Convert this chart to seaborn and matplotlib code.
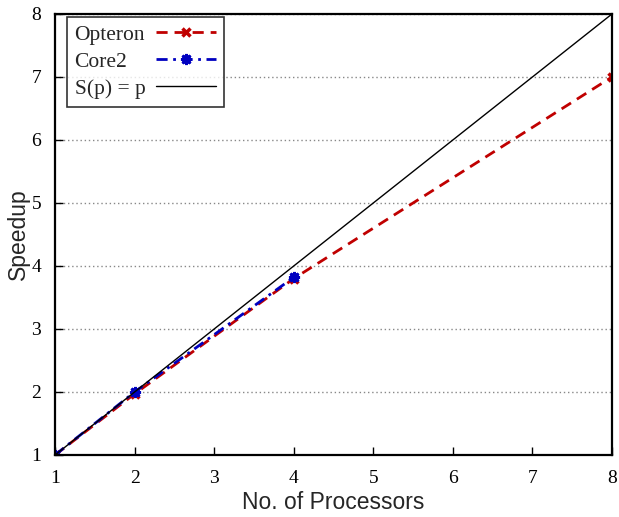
import numpy as np
import matplotlib.pyplot as plt
import seaborn as sns
import pandas as pd

# speedup measurements
procs_opteron = [1, 2, 4, 8]
speedup_opteron = [1.0, 1.97, 3.80, 7.0]
procs_core2 = [1, 2, 4]
speedup_core2 = [1.0, 2.0, 3.82]
ideal = [1, 8]

sns.set_style('white')
plt.rcParams['font.family'] = ['Liberation Serif', 'DejaVu Serif']

fig = plt.figure(figsize=(6.19, 5.17), dpi=100)
ax = fig.add_axes([0.089, 0.12, 0.8997, 0.853])

df_opt = pd.DataFrame({'p': procs_opteron, 's': speedup_opteron})
df_c2 = pd.DataFrame({'p': procs_core2, 's': speedup_core2})
df_id = pd.DataFrame({'p': ideal, 's': ideal})

red = '#c00000'
blue = '#0000c0'
sns.lineplot(data=df_opt, x='p', y='s', ax=ax, color=red, linestyle=(0, (4, 2.5)),
             lw=2, marker='x', markersize=6, markeredgewidth=2.5,
             markeredgecolor=red, label='Opteron')
sns.lineplot(data=df_c2, x='p', y='s', ax=ax, color=blue, linestyle=(0, (4, 2, 1, 2)),
             lw=2, marker=(8, 2, 0), markersize=8, markeredgewidth=2,
             markeredgecolor=blue, label='Core2')
sns.lineplot(data=df_id, x='p', y='s', ax=ax, color='black', lw=1, label='S(p) = p')

ax.set_xlim(1, 8)
ax.set_ylim(1, 8)
ax.set_xticks(range(1, 9))
ax.set_yticks(range(1, 9))
ax.yaxis.grid(True, linestyle=(0, (1, 2)), color='#888888', lw=1)
ax.tick_params(direction='in', length=6, labelsize=14, width=1, colors='black',
               bottom=True, left=True)
ax.tick_params(axis='x', pad=11)
ax.tick_params(axis='y', pad=10)
for s in ax.spines.values():
    s.set_linewidth(1.6)
    s.set_color('black')

ax.set_xlabel('No. of Processors', fontsize=16.5, family='Liberation Sans', labelpad=3)
ax.set_ylabel('Speedup', fontsize=16.5, family='Liberation Sans', labelpad=1)

leg = ax.legend(loc='upper left', fontsize=15.5, frameon=True, fancybox=False,
                edgecolor='black', markerfirst=False, handlelength=2.8,
                borderpad=0.35, labelspacing=0.33, handletextpad=0.5,
                borderaxespad=0, bbox_to_anchor=(0.0215, 0.993))
leg.get_frame().set_linewidth(1.2)

# left-align the legend labels (markerfirst=False right-aligns them)
fig.canvas.draw()
r = fig.canvas.get_renderer()
widths = [t.get_window_extent(r).width for t in leg.get_texts()]
wmax = max(widths)
for t, w in zip(leg.get_texts(), widths):
    t.set_x(-(wmax - w))

fig.savefig('out.png', dpi=100)
